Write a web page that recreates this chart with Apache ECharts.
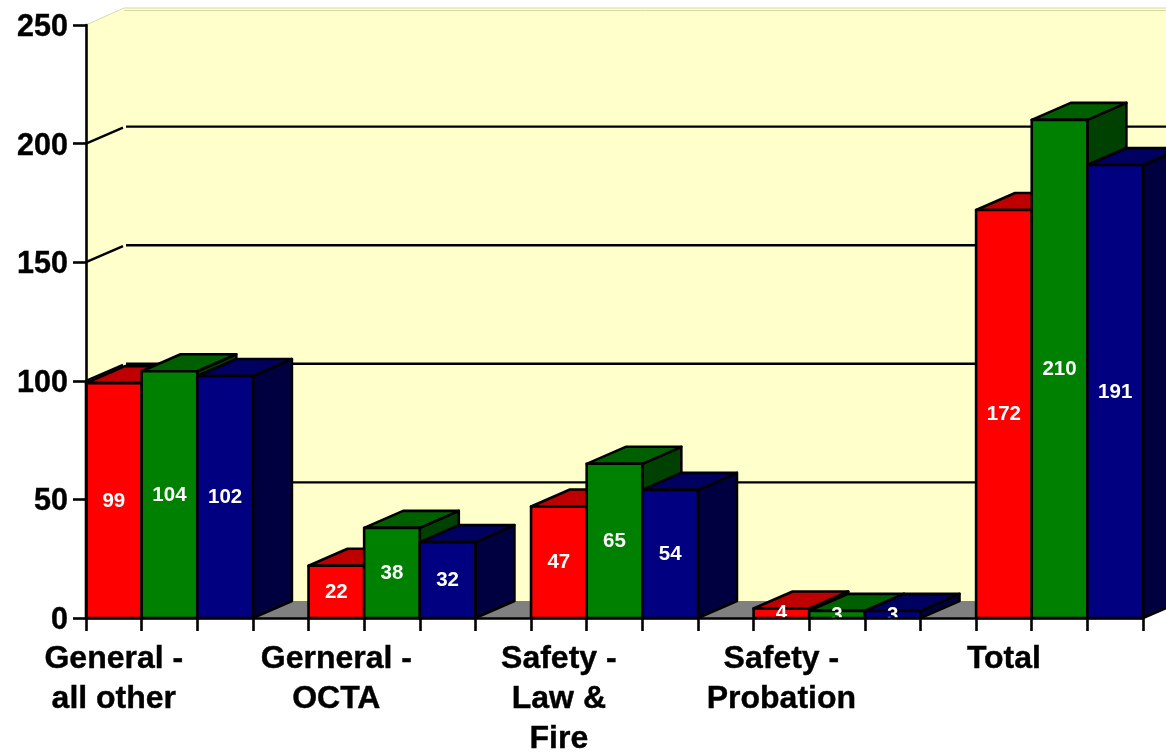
<!DOCTYPE html>
<html>
<head>
<meta charset="utf-8">
<style>html,body{margin:0;padding:0;background:#fff;overflow:hidden}#c{width:1166px;height:752px}</style>
<script src="https://cdn.jsdelivr.net/npm/echarts@6/dist/echarts.min.js"></script>
</head>
<body>
<div id="c"></div>
<script>
const categories = ['General -\nall other', 'Gerneral -\nOCTA', 'Safety -\nLaw &\nFire', 'Safety -\nProbation', 'Total'];
const redValues = [99, 22, 47, 4, 172];
const greenValues = [104, 38, 65, 3, 210];
const blueValues = [102, 32, 54, 3, 191];
const wallGridValues = [50, 100, 150, 200];
const slotsPerCategory = 4;

const DX = 40, DY = -17, BAR_DX = 39;
const FONT = 'Liberation Sans';
const slots = categories.flatMap(c => [c, '', '', '']).slice(0, -1);
const lastSlot = slots.length - 1;

function barSeries(values, offset, front, top, side) {
  return {
    type: 'custom',
    coordinateSystem: 'cartesian2d',
    silent: true,
    z: 3 + offset,
    encode: { x: 0, y: 1 },
    data: values.map((v, i) => [i * slotsPerCategory + offset, v]),
    renderItem(params, api) {
      const slot = api.value(0), val = api.value(1);
      const w = api.size([1, 0])[0];
      const t = api.coord([slot, val]);
      const b = api.coord([slot, 0]);
      const l = t[0] - w / 2, r = t[0] + w / 2, yt = t[1], yb = b[1];
      const stroke = { stroke: '#000', lineWidth: 2.6, lineJoin: 'round' };
      const poly = (points, fill) => ({
        type: 'polygon', shape: { points }, style: Object.assign({ fill }, stroke)
      });
      return {
        type: 'group',
        children: [
          poly([[r, yb], [r + BAR_DX, yb + DY], [r + BAR_DX, yt + DY], [r, yt]], side),
          poly([[l, yt], [l + BAR_DX, yt + DY], [r + BAR_DX, yt + DY], [r, yt]], top),
          poly([[l, yb], [l, yt], [r, yt], [r, yb]], front),
          {
            type: 'text',
            style: {
              x: t[0], y: (yt + yb) / 2 + 0.5, text: String(val),
              fill: '#fff', fontFamily: FONT, fontWeight: 'bold', fontSize: 20.5,
              align: 'center', verticalAlign: 'middle'
            }
          }
        ]
      };
    }
  };
}

const wallSeries = {
  type: 'custom',
  coordinateSystem: 'cartesian2d',
  silent: true,
  z: 1,
  encode: { x: 0, y: 1 },
  data: [[0, 250]],
  renderItem(params, api) {
    const w = api.size([1, 0])[0];
    const t = api.coord([0, api.value(1)]);
    const b = api.coord([0, 0]);
    const e = api.coord([lastSlot, 0]);
    const l = t[0] - w / 2, f = e[0] + w / 2, r = f + DX, yt = t[1], yb = b[1];
    return {
      type: 'group',
      children: [
        { type: 'polygon', shape: { points: [[l, yb], [l, yt], [l + DX, yt + DY], [r, yt + DY], [r, yb + DY], [l + DX, yb + DY]] },
          style: { fill: '#FFFFCC', stroke: null } },
        { type: 'polygon', shape: { points: [[l, yb], [l + DX, yb + DY], [r, yb + DY], [f, yb]] },
          style: { fill: '#808080', stroke: null } },
        { type: 'polyline', shape: { points: [[l, yt], [l + DX - 2, yt + DY], [r, yt + DY]] },
          style: { fill: null, stroke: '#D9D9A6', lineWidth: 1 } },
        { type: 'line', shape: { x1: l + DX - 2, y1: yt + DY + 2.5, x2: r, y2: yt + DY + 2.5 },
          style: { stroke: '#D9D9A6', lineWidth: 1 } }
      ]
    };
  }
};

const gridSeries = {
  type: 'custom',
  coordinateSystem: 'cartesian2d',
  silent: true,
  z: 2,
  encode: { x: 0, y: 1 },
  data: wallGridValues.map(v => [0, v]),
  renderItem(params, api) {
    const w = api.size([1, 0])[0];
    const p = api.coord([0, api.value(1)]);
    const e = api.coord([lastSlot, 0]);
    const l = p[0] - w / 2, r = e[0] + w / 2 + DX, y = p[1];
    const style = { stroke: '#000', lineWidth: 2.4 };
    return {
      type: 'group',
      children: [
        { type: 'line', shape: { x1: l, y1: y, x2: l + DX - 3, y2: y + DY + 1 }, style },
        { type: 'line', shape: { x1: l + DX, y1: y + DY, x2: r, y2: y + DY }, style }
      ]
    };
  }
};

const chart = echarts.init(document.getElementById('c'), null, { renderer: 'canvas' });
chart.setOption({
  animation: false,
  backgroundColor: '#fff',
  grid: { left: 86, top: 25, width: 1057, height: 593, containLabel: false, outerBoundsMode: 'none' },
  xAxis: {
    type: 'category',
    data: slots,
    z: 10,
    boundaryGap: true,
    axisLine: { show: true, onZero: false, lineStyle: { color: '#000', width: 2.6 } },
    axisTick: { show: true, interval: 0, length: 13, alignWithLabel: false, lineStyle: { color: '#000', width: 2.6 } },
    axisLabel: {
      interval: 0, margin: 21, hideOverlap: false,
      color: '#000', fontFamily: FONT, fontWeight: 'bold', fontSize: 32, lineHeight: 40,
      textBorderColor: '#000', textBorderWidth: 0.4
    },
    splitLine: { show: false }
  },
  yAxis: {
    type: 'value',
    min: 0, max: 250, interval: 50,
    z: 10,
    axisLine: { show: true, lineStyle: { color: '#000', width: 2.6 } },
    axisTick: { show: true, length: 13, lineStyle: { color: '#000', width: 2.6 } },
    axisLabel: {
      margin: 18, verticalAlign: 'top', padding: [-13, 0, 0, 0],
      color: '#000', fontFamily: FONT, fontWeight: 'bold', fontSize: 30.5,
      textBorderColor: '#000', textBorderWidth: 0.4
    },
    splitLine: { show: false }
  },
  series: [
    wallSeries,
    gridSeries,
    barSeries(redValues, 0, '#FF0000', '#BF0000', '#800000'),
    barSeries(greenValues, 1, '#008000', '#006000', '#004000'),
    barSeries(blueValues, 2, '#000080', '#000060', '#000040')
  ]
});
</script>
</body>
</html>
